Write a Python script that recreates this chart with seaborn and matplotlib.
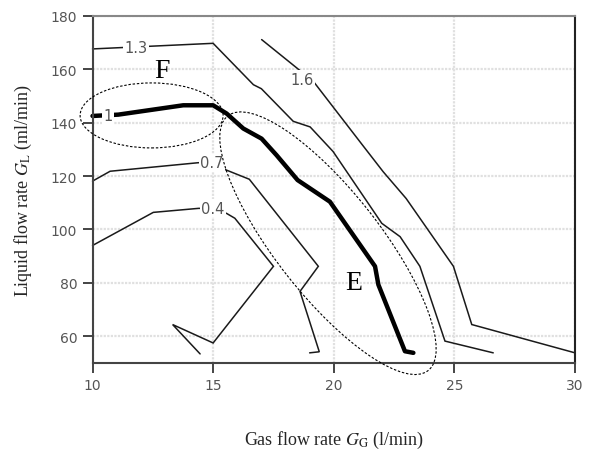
import numpy as np
import pandas as pd
import seaborn as sns
import matplotlib
matplotlib.use("Agg")
import matplotlib.pyplot as plt
from matplotlib.patches import Ellipse
from matplotlib.transforms import ScaledTranslation

# ---- data ----
lvl04_x = [10.0, 12.52, 14.39, 15.0, 15.56, 15.9, 17.5, 15.0, 13.32, 14.46]
lvl04_y = [94.0, 106.4, 107.9, 107.9, 106.0, 104.2, 86.2, 57.5, 64.4, 53.4]

lvl07_x = [10.0, 10.73, 14.39, 15.0, 15.56, 16.5, 19.36, 18.6, 19.4, 19.0]
lvl07_y = [118.1, 121.8, 125.0, 124.5, 122.2, 118.8, 86.2, 76.8, 54.2, 53.8]

lvl10_x = [10.0, 11.07, 13.76, 15.0, 15.56, 16.25, 17.01, 17.63, 18.5, 19.84, 21.71, 21.85, 22.95, 23.3]
lvl10_y = [142.5, 143.0, 146.5, 146.5, 143.4, 137.8, 134.0, 127.8, 118.5, 110.4, 86.2, 79.3, 54.4, 53.8]

lvl13_x = [10.0, 15.0, 16.67, 17.0, 18.32, 19.02, 19.97, 21.99, 22.75, 23.57, 24.61, 26.61]
lvl13_y = [167.6, 169.7, 154.2, 152.7, 140.5, 138.4, 129.2, 102.3, 97.3, 86.2, 58.2, 53.8]

lvl16_x = [17.01, 19.15, 21.2, 22.05, 23.0, 24.96, 25.72, 30.0]
lvl16_y = [171.1, 155.5, 131.5, 121.6, 111.6, 86.2, 64.4, 53.8]

levels = ["0.4", "0.7", "1", "1.3", "1.6"]
label_x = [15.0, 14.95, 10.65, 11.8, 18.68]
label_y = [107.9, 125.0, 142.6, 168.3, 156.3]

xticks = [10, 15, 20, 25, 30]
yticks = [60, 80, 100, 120, 140, 160, 180]

# ---- figure ----
sns.set_style("ticks")
plt.rcParams["mathtext.fontset"] = "stix"
fig = plt.figure(figsize=(5.9, 4.52), dpi=100)
ax = fig.add_axes([0.1568, 0.1947, 0.9746 - 0.1568, 0.9628 - 0.1947])

lines = [(lvl04_x, lvl04_y, 1.1), (lvl07_x, lvl07_y, 1.1), (lvl10_x, lvl10_y, 3.2),
         (lvl13_x, lvl13_y, 1.1), (lvl16_x, lvl16_y, 1.1)]
for xs, ys, lw in lines:
    sns.lineplot(x=xs, y=ys, sort=False, estimator=None, ax=ax,
                 color="#1a1a1a" if lw < 2 else "black", lw=lw, clip_on=False,
                 solid_joinstyle="miter" if lw < 2 else "round")

for t, lx, ly in zip(levels, label_x, label_y):
    ax.text(lx, ly, t, ha="center", va="center", fontsize=10.5, color="#555555",
            family="DejaVu Sans",
            bbox=dict(facecolor="white", edgecolor="none", pad=1.0), zorder=5)

# dotted ellipses (sizes in inches, rotation in display space)
def add_ellipse(cx, cy, w, h, ang):
    tr = fig.dpi_scale_trans + ScaledTranslation(cx, cy, ax.transData)
    e = Ellipse((0, 0), w, h, angle=ang, transform=tr, fill=False,
                edgecolor="black", lw=0.8, linestyle=(0, (2.2, 1.6)), clip_on=False, zorder=6)
    fig.add_artist(e)

add_ellipse(12.45, 142.7, 1.43, 0.65, 0)
add_ellipse(19.76, 94.85, 3.24, 1.04, -51.8)

ax.text(12.87, 159.5, "F", ha="center", va="center", fontsize=20,
        family="Liberation Serif", color="black")
ax.text(20.81, 80.0, "E", ha="center", va="center", fontsize=20,
        family="Liberation Serif", color="black")

ax.set_xlim(10, 30)
ax.set_ylim(50, 180)
ax.set_xticks(xticks)
ax.set_yticks(yticks)
ax.grid(True, color="#e0e0e0", linestyle=(0, (1, 0.6)), lw=1.6)
ax.set_axisbelow(True)

ax.tick_params(axis="both", direction="out", length=7, width=1.4, color="#444444",
               labelsize=10, labelcolor="#555555", pad=4)
for s in ["left", "bottom"]:
    ax.spines[s].set_color("#444444")
    ax.spines[s].set_linewidth(1.5)
ax.spines["top"].set_color("#888888")
ax.spines["top"].set_linewidth(1.5)
ax.spines["right"].set_color("#222222")
ax.spines["right"].set_linewidth(1.5)
ax.spines["top"].set_visible(True)
ax.spines["right"].set_visible(True)

ax.set_xlabel(r"Gas flow rate $G_{\mathrm{G}}$ (l/min)", fontsize=13,
              family="Liberation Serif", labelpad=26)
ax.set_ylabel(r"Liquid flow rate $G_{\mathrm{L}}$ (ml/min)", fontsize=13,
              family="Liberation Serif", labelpad=12)

fig.savefig("out.png", dpi=100)
